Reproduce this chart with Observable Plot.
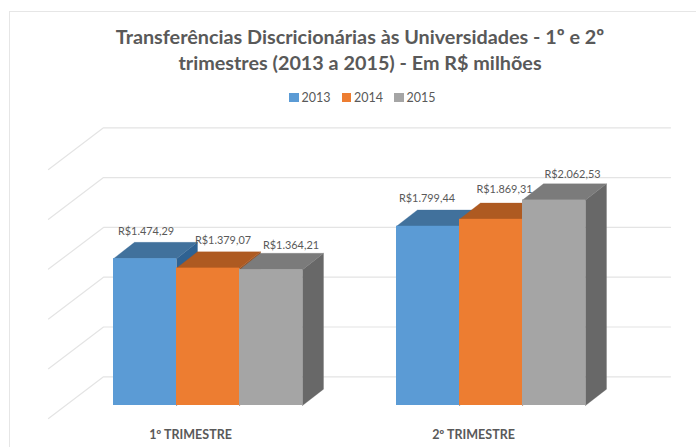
<!DOCTYPE html>
<html>
<head>
<meta charset="utf-8">
<script src="https://cdn.jsdelivr.net/npm/d3@7"></script>
<script src="https://cdn.jsdelivr.net/npm/@observablehq/plot@0.6"></script>
<style>
  html, body { margin: 0; padding: 0; background: #fff; }
  #page { position: relative; width: 696px; height: 447px; overflow: hidden; font-family: Lato, "Open Sans", sans-serif; color: #595959; }
  #frame { position: absolute; left: 9px; top: 11px; width: 700px; height: 450px; border: 1.5px solid #e6e6e6; box-sizing: border-box; }
  #title { position: absolute; left: 60px; width: 600px; top: 23px; text-align: center; font-weight: 700; font-size: 19.8px; line-height: 26px; }
  #legend { position: absolute; top: 88.5px; left: 289px; display: flex; align-items: center; font-size: 12.5px; line-height: 17px; }
  #legend i { display: inline-block; width: 9.5px; height: 9px; margin-right: 3px; }
  #legend span { margin-right: 11px; }
  #chart { position: absolute; left: 0; top: 105px; }
  #chart svg { display: block; background: transparent; }
</style>
</head>
<body>
<div id="page">
  <div id="frame"></div>
  <div id="title"></div>
  <div id="legend"></div>
  <div id="chart"></div>
</div>
<script>
// ---- data
const titleLines = ["Transferências Discricionárias às Universidades - 1º e 2º", "trimestres (2013 a 2015) - Em R$ milhões"];
const quarters = ["1º TRIMESTRE", "2º TRIMESTRE"];
const years = ["2013", "2014", "2015"];
const values2013 = [1474.29, 1799.44];
const values2014 = [1379.07, 1869.31];
const values2015 = [1364.21, 2062.53];
const valueLabels2013 = ["R$1.474,29", "R$1.799,44"];
const valueLabels2014 = ["R$1.379,07", "R$1.869,31"];
const valueLabels2015 = ["R$1.364,21", "R$2.062,53"];
const gridValues = [0, 500, 1000, 1500, 2000, 2500];

// ---- styles and layout
const frontColors = ["#5b9bd5", "#ed7d31", "#a5a5a5"];
const topColors = ["#41719c", "#ae5a21", "#7b7b7b"];
const sideColors = ["#2f6292", "#9c4f1c", "#686868"];
const W = 696, H = 342, TOP = 105;
const groupPx = 283, barPx = 63, firstCentre = 207.5, baselinePx = 405, pxPerValue = 0.0996;
const barW = barPx / groupPx;
const depthX = 21 / groupPx, depthY = 16.3 / pxPerValue;
const gridLeft = (48 - firstCentre) / groupPx, gridBack = (103 - firstCentre) / groupPx, gridRight = (670 - firstCentre) / groupPx;
const gridFrontV = -13 / pxPerValue, gridBackV = 28.7 / pxPerValue;
const marginBottom = 22;
// nudge of each value label relative to its bar's centre and top, in pixels
const labelDx = [[1, 15, 20], [-1, 13.5, 18.5]];
const labelDy = [[-27, -28, -24.5], [-28, -30, -26]];

document.getElementById("title").innerHTML = titleLines.map(t => `<div>${t}</div>`).join("");
document.getElementById("legend").innerHTML = years.map((y, i) =>
  `<i style="background:${frontColors[i]}"></i><span>${y}</span>`).join("");

const series = [values2013, values2014, values2015];
const labels = [valueLabels2013, valueLabels2014, valueLabels2015];

const bars = [];
quarters.forEach((q, g) => years.forEach((y, s) => {
  const x0 = g + (s - 1.5) * barW, x1 = x0 + barW, v = series[s][g];
  bars.push({g, s, x0, x1, v, label: labels[s][g]});
}));

const poly = (pts, fill) => Plot.line(pts.concat([pts[0]]), {x: "x", y: "y", fill, stroke: fill, strokeWidth: 0.3, curve: "linear"});

const marks = [];
// back wall gridlines, with their slanted floor segment
for (const v of gridValues) {
  marks.push(Plot.line([
    {x: gridLeft, y: v + gridFrontV},
    {x: gridBack, y: v + gridBackV},
    {x: gridRight, y: v + gridBackV}
  ], {x: "x", y: "y", stroke: "#e4e4e4", strokeWidth: 1.2}));
}
// bars: side, top, then front, left to right
for (const b of bars) {
  marks.push(poly([
    {x: b.x1, y: 0}, {x: b.x1 + depthX, y: depthY}, {x: b.x1 + depthX, y: b.v + depthY}, {x: b.x1, y: b.v}
  ], sideColors[b.s]));
  marks.push(poly([
    {x: b.x0, y: b.v}, {x: b.x1, y: b.v}, {x: b.x1 + depthX, y: b.v + depthY}, {x: b.x0 + depthX, y: b.v + depthY}
  ], topColors[b.s]));
  marks.push(Plot.rectY([b], {x1: "x0", x2: "x1", y1: 0, y2: "v", fill: frontColors[b.s]}));
}
for (const b of bars) {
  marks.push(Plot.text([b], {
    x: d => (d.x0 + d.x1) / 2, y: "v", text: "label",
    dx: labelDx[b.g][b.s], dy: labelDy[b.g][b.s],
    fill: "#595959", fontSize: 10.9, fontFamily: "Lato, sans-serif"
  }));
}
marks.push(Plot.axisX({
  ticks: [0, 1], tickFormat: i => quarters[i], tickSize: 0, anchor: "bottom", label: null,
  dx: -17.5, dy: -4, fill: "#595959", fontSize: 12.5, fontWeight: 700, fontFamily: "Lato, sans-serif"
}));

const plotBottomPx = TOP + H - marginBottom;
const chart = Plot.plot({
  width: W, height: H,
  marginTop: 0, marginLeft: 0, marginRight: 0, marginBottom,
  x: {type: "linear", domain: [-firstCentre / groupPx, (W - firstCentre) / groupPx], axis: null},
  y: {type: "linear", domain: [(baselinePx - plotBottomPx) / pxPerValue, (baselinePx - TOP) / pxPerValue], axis: null},
  marks
});
document.getElementById("chart").appendChild(chart);
</script>
</body>
</html>
